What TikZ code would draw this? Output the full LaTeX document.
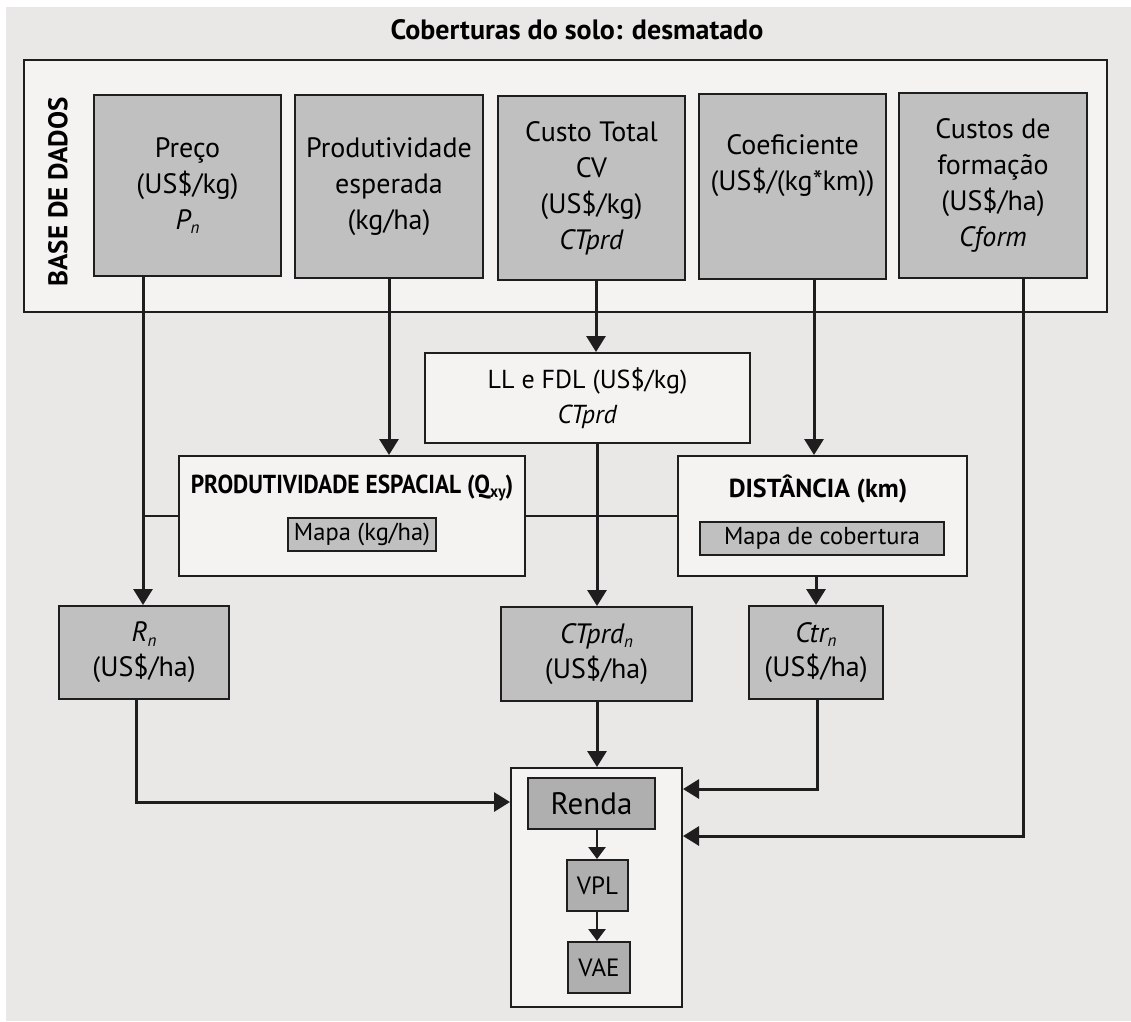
\documentclass[tikz,border=0pt]{standalone}
\usepackage{fontspec}
\setmainfont{PT Sans}
\usetikzlibrary{arrows.meta}
\definecolor{bgc}{HTML}{E9E8E6}
\definecolor{lightc}{HTML}{F4F3F1}
\definecolor{grayc}{HTML}{C0C0C0}
\definecolor{darkc}{HTML}{AEAFAE}
\definecolor{linec}{HTML}{1E1E1E}
\newcommand{\sbn}[1]{\raisebox{-0.3ex}{\fontsize{17}{17}\selectfont #1}}
\tikzset{
  gbox/.style={draw=linec, line width=2pt, fill=grayc, inner sep=0pt, align=center,
    font={\fontsize{28}{36}\selectfont}},
  lbox/.style={draw=linec, line width=2pt, fill=lightc, inner sep=0pt, align=center,
    font={\fontsize{26}{35}\selectfont}},
  mbox/.style={draw=linec, line width=2pt, fill=grayc, inner sep=0pt,
    font={\fontsize{24.5}{26}\selectfont}},
  dbox/.style={draw=linec, line width=2pt, fill=darkc, inner sep=0pt,
    font={\fontsize{25}{26}\selectfont}},
  ttl/.style={inner sep=0pt, font={\bfseries\fontsize{26}{28}\selectfont}},
  arr/.style={draw=linec, line width=3pt, -{Triangle[length=16pt,width=19pt]}},
  sarr/.style={draw=linec, line width=2.6pt, -{Triangle[length=12pt,width=17pt]}},
  thin/.style={draw=linec, line width=2pt},
}
\begin{document}
\begin{tikzpicture}[x=1pt,y=-1pt]
\useasboundingbox (0,0) rectangle (1131,1021);
\fill[bgc] (6,7) rectangle (1131,1021);
\node[inner sep=0pt, font={\bfseries\fontsize{28}{30}\selectfont}] (title) at (577,30) {Coberturas do solo: desmatado};
% base de dados
\node[draw=linec, line width=2pt, fill=lightc, minimum width=1083pt, minimum height=252pt, inner sep=0pt] (base) at (565.5,186) {};
\node[rotate=90, inner sep=0pt, font={\bfseries\fontsize{27}{28}\selectfont}] (basettl) at (58,192) {BASE DE DADOS};
\node[gbox, minimum width=187pt, minimum height=181pt] (preco) at (187.5,185.5) {Preço\\(US\$/kg)\\\textit{P\sbn{n}}};
\node[gbox, minimum width=188pt, minimum height=183pt] (prod) at (389,186.5) {Produtividade\\esperada\\(kg/ha)};
\node[gbox, minimum width=187pt, minimum height=184pt] (ct) at (591.5,188) {Custo Total\\CV\\(US\$/kg)\\\textit{CTprd}};
\node[gbox, minimum width=187pt, minimum height=185pt] (coef) at (792.5,186.5) {Coeficiente\\(US\$/(kg*km))\\[12pt]};
\node[gbox, minimum width=188pt, minimum height=185pt] (cus) at (993,185.5) {Custos de\\formação\\(US\$/ha)\\\textit{Cform}};
% middle
\node[lbox, minimum width=325pt, minimum height=90pt] (ll) at (587.5,398) {LL e FDL (US\$/kg)\\\textit{CTprd}};
\node[lbox, minimum width=346pt, minimum height=120pt] (pe) at (352,516) {};
\node[ttl] (pettl) at (352,488) {\scalebox{0.9}[1]{PRODUTIVIDADE ESPACIAL (Q\sbn{xy})}};
\node[mbox, minimum width=148pt, minimum height=33pt] (pemap) at (362,534.5) {Mapa (kg/ha)};
\node[lbox, minimum width=289pt, minimum height=120pt] (dist) at (822.5,516) {};
\node[ttl] (distttl) at (818,489) {DISTÂNCIA (km)};
\node[mbox, minimum width=244pt, minimum height=33pt] (distmap) at (822,538.5) {Mapa de cobertura};
% results
\node[gbox, minimum width=170pt, minimum height=93pt, font={\fontsize{28}{35}\selectfont}] (rn) at (144,652.5) {\textit{R\sbn{n}}\\(US\$/ha)};
\node[gbox, minimum width=191pt, minimum height=94pt, font={\fontsize{28}{35}\selectfont}] (ctn) at (596.5,654) {\textit{CTprd\sbn{n}}\\(US\$/ha)};
\node[gbox, minimum width=134pt, minimum height=93pt, font={\fontsize{28}{34}\selectfont}] (ctr) at (816,652.5) {\textit{Ctr\sbn{n}}\\(US\$/ha)};
% renda
\node[lbox, minimum width=171pt, minimum height=239pt] (ro) at (596.5,887.5) {};
\node[dbox, minimum width=127pt, minimum height=51pt, font={\fontsize{31}{32}\selectfont}] (renda) at (591.5,803.5) {Renda};
\node[dbox, minimum width=61pt, minimum height=51pt] (vpl) at (597.5,885.5) {VPL};
\node[dbox, minimum width=62pt, minimum height=51pt] (vae) at (599,967.5) {VAE};
% connector coordinates
\coordinate (xP) at (143,0);
\coordinate (xCT) at (596,0);
\coordinate (xCo) at (814,0);
\coordinate (cCu) at (1023,836);
\coordinate (xLL) at (597,0);
\coordinate (xD) at (816,0);
\coordinate (cR) at (136,802);
\coordinate (cCtr) at (817,789);
\coordinate (xV) at (597,0);
% connectors
\draw[thin] (pe.west -| xP) -- (pe.west);
\draw[thin] (pe.east) -- (dist.west);
\draw[arr] (preco.south -| xP) -- (rn.north -| xP);
\draw[arr] (prod.south) -- (pe.north -| prod.south);
\draw[arr] (ct.south -| xCT) -- (ll.north -| xCT);
\draw[arr] (coef.south -| xCo) -- (dist.north -| xCo);
\draw[arr] (cus.south -| cCu) -- (cCu) -- (ro.east |- cCu);
\draw[arr] (ll.south -| xLL) -- (ctn.north -| xLL);
\draw[arr] (dist.south -| xD) -- (ctr.north -| xD);
\draw[arr] (rn.south -| cR) -- (cR) -- (ro.west |- cR);
\draw[arr] (ctn.south -| xV) -- (ro.north -| xV);
\draw[arr] (ctr.south -| cCtr) -- (cCtr) -- (ro.east |- cCtr);
\draw[sarr] (renda.south -| xV) -- (vpl.north -| xV);
\draw[sarr] (vpl.south -| xV) -- (vae.north -| xV);
\end{tikzpicture}
\end{document}
